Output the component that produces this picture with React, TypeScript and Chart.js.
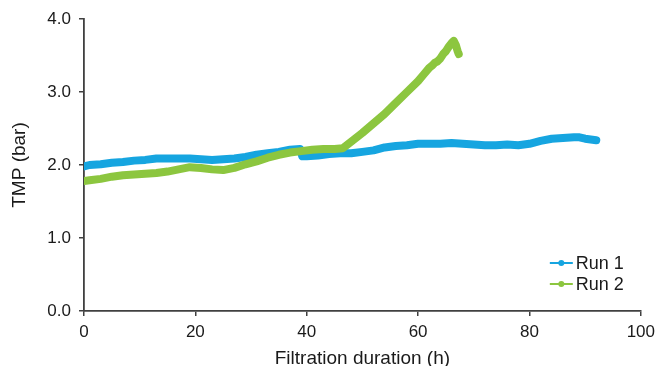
import React, { useEffect, useRef } from 'react';
import { Chart, registerables } from 'chart.js';

Chart.register(...registerables);

const run1Hours = [0, 1, 3, 5, 7, 9, 11, 13, 15, 17, 19, 21, 23, 25, 27, 29, 31, 33, 35, 37, 38.8, 39.2, 40, 42, 44, 46, 48, 50, 52, 54, 56, 58, 60, 62, 64, 66, 68, 70, 72, 74, 76, 78, 80, 82, 84, 86, 88, 89, 90, 91, 92];
const run1Tmp = [1.98, 2.0, 2.01, 2.03, 2.04, 2.06, 2.07, 2.09, 2.09, 2.09, 2.09, 2.08, 2.07, 2.08, 2.09, 2.11, 2.14, 2.16, 2.18, 2.21, 2.22, 2.12, 2.12, 2.13, 2.15, 2.16, 2.16, 2.18, 2.2, 2.24, 2.26, 2.27, 2.29, 2.29, 2.29, 2.3, 2.29, 2.28, 2.27, 2.27, 2.28, 2.27, 2.29, 2.33, 2.36, 2.37, 2.38, 2.38, 2.36, 2.35, 2.34];

const run2Hours = [0, 1, 3, 5, 7, 9, 11, 13, 15, 17, 19, 21, 23, 25, 27, 29, 31, 33, 35, 37, 39, 41, 43, 45, 46.5, 48, 50, 52, 54, 56, 58, 60, 61, 62, 62.5, 63, 63.5, 64, 64.5, 65, 65.5, 66, 66.4, 66.8, 67.1, 67.3];
const run2Tmp = [1.78, 1.79, 1.81, 1.84, 1.86, 1.87, 1.88, 1.89, 1.91, 1.94, 1.97, 1.96, 1.94, 1.93, 1.96, 2.01, 2.05, 2.1, 2.14, 2.17, 2.19, 2.21, 2.22, 2.22, 2.23, 2.32, 2.44, 2.57, 2.7, 2.85, 3.0, 3.15, 3.24, 3.33, 3.36, 3.4, 3.42, 3.46, 3.52, 3.56, 3.62, 3.67, 3.7, 3.64, 3.56, 3.52];

const xTickValues = [0, 20, 40, 60, 80, 100];
const yTickValues = [0, 1, 2, 3, 4];
const seriesLabels = ['Run 1', 'Run 2'];
const seriesColors = ['#16a5e0', '#8cc63f'];
const xTitle = 'Filtration duration (h)';
const yTitle = 'TMP (bar)';

const FONT = '"Liberation Sans", Arial, Helvetica, sans-serif';
const AXIS_COLOR = '#404040';

const cornerLegend = {
  id: 'cornerLegend',
  afterDraw(chart: any) {
    const { ctx, chartArea } = chart;
    ctx.save();
    ctx.font = `18px ${FONT}`;
    ctx.textBaseline = 'middle';
    ctx.textAlign = 'left';
    const x0 = chartArea.right - 91;
    const legendOrder = [0, 1];
    legendOrder.forEach((i, row) => {
      const ds = chart.data.datasets[i];
      const y = chartArea.bottom - 48 + row * 21;
      ctx.strokeStyle = ds.borderColor;
      ctx.lineWidth = 2;
      ctx.beginPath();
      ctx.moveTo(x0, y);
      ctx.lineTo(x0 + 23, y);
      ctx.stroke();
      ctx.fillStyle = ds.borderColor;
      ctx.beginPath();
      ctx.arc(x0 + 11.5, y, 3, 0, Math.PI * 2);
      ctx.fill();
      ctx.fillStyle = '#1a1a1a';
      ctx.fillText(ds.label, x0 + 26, y + 1);
    });
    ctx.restore();
  },
};

export default function App() {
  const canvasRef = useRef<HTMLCanvasElement | null>(null);

  useEffect(() => {
    document.body.style.margin = '0';
    const canvas = canvasRef.current;
    if (!canvas) return;
    const chart = new Chart(canvas, {
      type: 'line',
      data: {
        datasets: [
          {
            label: seriesLabels[0],
            data: run1Hours.map((h, i) => ({ x: h, y: run1Tmp[i] })),
            borderColor: seriesColors[0],
            backgroundColor: seriesColors[0],
            borderWidth: 8,
            borderJoinStyle: 'round',
            borderCapStyle: 'round',
            pointRadius: 0,
            tension: 0,
            order: 1,
          },
          {
            label: seriesLabels[1],
            data: run2Hours.map((h, i) => ({ x: h, y: run2Tmp[i] })),
            borderColor: seriesColors[1],
            backgroundColor: seriesColors[1],
            borderWidth: 8,
            borderJoinStyle: 'round',
            borderCapStyle: 'round',
            pointRadius: 0,
            tension: 0,
            order: 0,
          },
        ],
      },
      options: {
        animation: false,
        responsive: true,
        maintainAspectRatio: false,
        layout: { padding: { left: 0, right: 18, top: 19, bottom: 0 } },
        plugins: {
          legend: { display: false },
          tooltip: { enabled: false },
        },
        scales: {
          x: {
            type: 'linear',
            min: 0,
            max: 100,
            afterBuildTicks: (scale: any) => {
              scale.ticks = xTickValues.map((v) => ({ value: v }));
            },
            afterFit: (scale: any) => {
              scale.height = 55;
            },
            ticks: {
              color: '#1a1a1a',
              font: { family: FONT, size: 17 },
              padding: 6,
              maxRotation: 0,
              callback: (v: any) => String(v),
            },
            grid: {
              drawOnChartArea: false,
              drawTicks: true,
              tickLength: 5,
              color: AXIS_COLOR,
              lineWidth: 1.5,
            },
            border: { color: AXIS_COLOR, width: 1.8 },
            title: {
              display: true,
              text: xTitle,
              color: '#1a1a1a',
              font: { family: FONT, size: 19, lineHeight: 0.74 },
              padding: { top: 0, bottom: 0 },
            },
          },
          y: {
            type: 'linear',
            min: 0,
            max: 4,
            afterBuildTicks: (scale: any) => {
              scale.ticks = yTickValues.map((v) => ({ value: v }));
            },
            afterFit: (scale: any) => {
              scale.width = 84;
            },
            ticks: {
              color: '#1a1a1a',
              font: { family: FONT, size: 17 },
              padding: 8,
              callback: (v: any) => Number(v).toFixed(1),
            },
            grid: {
              drawOnChartArea: false,
              drawTicks: true,
              tickLength: 5,
              color: AXIS_COLOR,
              lineWidth: 1.5,
            },
            border: { color: AXIS_COLOR, width: 1.8 },
            title: {
              display: true,
              text: yTitle,
              color: '#1a1a1a',
              font: { family: FONT, size: 19, lineHeight: 1 },
              padding: { top: 10, bottom: 0 },
            },
          },
        },
      },
      plugins: [cornerLegend],
    });
    return () => chart.destroy();
  }, []);

  return (
    <div style={{ position: 'relative', width: '661px', height: '366px' }}>
      <canvas ref={canvasRef} />
    </div>
  );
}
